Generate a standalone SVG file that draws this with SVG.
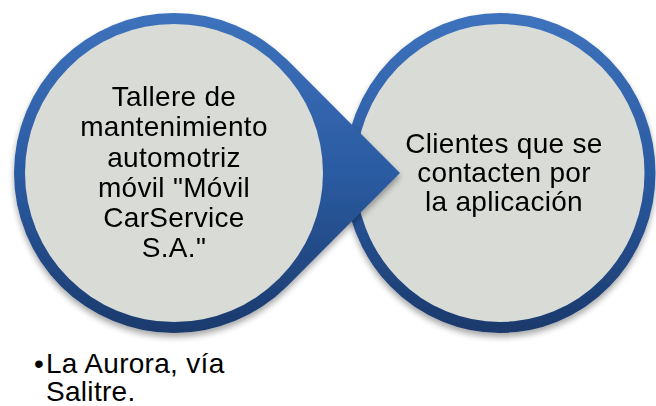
<svg xmlns="http://www.w3.org/2000/svg" width="656" height="406" viewBox="0 0 656 406">
  <defs>
    <linearGradient id="blueGrad" x1="0" y1="0" x2="0" y2="1">
      <stop offset="0" stop-color="#3D72BC"/>
      <stop offset="0.5" stop-color="#2B5BA2"/>
      <stop offset="1" stop-color="#1B3A6C"/>
    </linearGradient>
    <filter id="shadow" x="-10%" y="-10%" width="120%" height="125%">
      <feGaussianBlur in="SourceAlpha" stdDeviation="3"/>
      <feOffset dx="0" dy="4" result="b"/>
      <feComponentTransfer><feFuncA type="linear" slope="0.35"/></feComponentTransfer>
      <feMerge><feMergeNode/><feMergeNode in="SourceGraphic"/></feMerge>
    </filter>
    <style>
      .lbl { font-family: "Liberation Sans", Arial, sans-serif; font-size: 28px; fill: #000; letter-spacing: 0.3px; }
      .mid { text-anchor: middle; }
      .fill { fill: #D9DBD7; }
    </style>
  </defs>
  <rect width="656" height="406" fill="#FFFFFF"/>

  <g id="node-right" filter="url(#shadow)">
    <ellipse cx="500" cy="173" rx="150" ry="154.5" class="fill" stroke="url(#blueGrad)" stroke-width="11"/>
    <text class="lbl mid" x="504" y="153">Clientes que se</text>
    <text class="lbl mid" x="504" y="182">contacten por</text>
    <text class="lbl mid" x="504" y="211">la aplicación</text>
  </g>

  <g id="node-left" filter="url(#shadow)">
    <path d="M400,173 L287.14,286.14 A160,160 0 1 1 287.14,59.86 Z" fill="url(#blueGrad)"/>
    <circle cx="174" cy="173" r="149" class="fill"/>
    <text class="lbl mid" x="174" y="106">Tallere de</text>
    <text class="lbl mid" x="174" y="136">mantenimiento</text>
    <text class="lbl mid" x="174" y="167">automotriz</text>
    <text class="lbl mid" x="174" y="197">móvil "Móvil</text>
    <text class="lbl mid" x="174" y="227">CarService</text>
    <text class="lbl mid" x="174" y="257">S.A."</text>
  </g>

  <g id="connectors"/>

  <g id="note-location">
    <text class="lbl" x="34" y="373">•</text>
    <text class="lbl" x="46" y="373">La Aurora, vía</text>
    <text class="lbl" x="46" y="401">Salitre.</text>
  </g>
</svg>
